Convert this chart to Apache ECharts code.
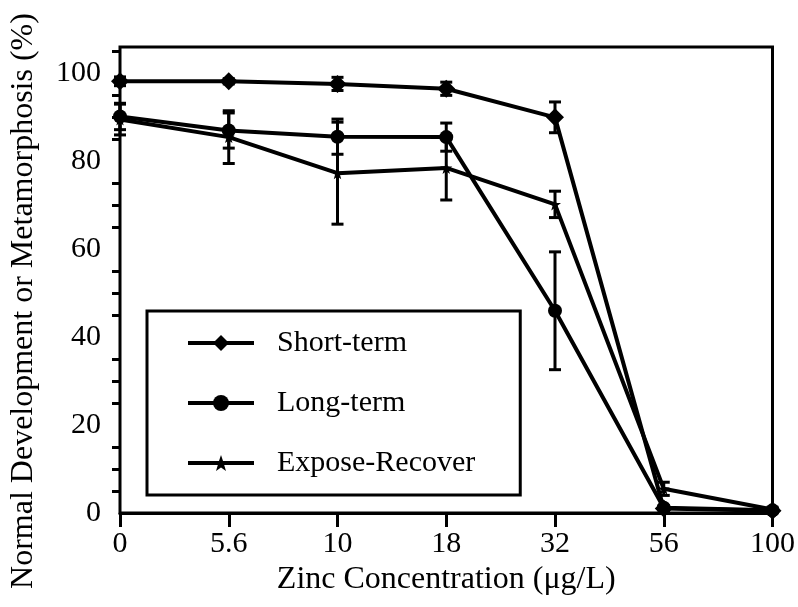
<!DOCTYPE html>
<html>
<head>
<meta charset="utf-8">
<script src="https://cdn.jsdelivr.net/npm/echarts@6/dist/echarts.min.js"></script>
<style>
  html, body { margin: 0; padding: 0; background: #fff; }
  #chart { width: 798px; height: 607px; }
</style>
</head>
<body>
<div id="chart"></div>
<script>
// zinc concentrations (category axis)
const concentrations = ['0', '5.6', '10', '18', '32', '56', '100'];

// mean % normal development / metamorphosis
const shortTerm = [98.2, 98.2, 97.6, 96.5, 90, 1.0, 0.5];
const longTerm = [90.2, 87, 85.6, 85.5, 46, 1.2, 0.6];
const exposeRecover = [89.5, 85.5, 77.3, 78.5, 70.2, 5.5, 0.8];

// +/- error
const shortErr = [1, 0.6, 1.5, 1.5, 3.5, 0.5, 0.5];
const longErr = [3, 4, 4, 3.2, 13.4, 0.5, 0.3];
const exposeErr = [3.5, 6, 11.6, 7.3, 3, 1.5, 0.5];

const yTicks = [0, 20, 40, 60, 80, 100];

const font = 'Liberation Serif';
const star = 'path://M0,-10 L2.4,-3.1 9.5,-3.1 3.8,1.2 5.9,8.1 0,4 -5.9,8.1 -3.8,1.2 -9.5,-3.1 -2.4,-3.1 Z';

const bars = (vals, errs) => vals.map((v, i) => [i, v - errs[i], v + errs[i]]);

const renderBar = (params, api) => {
  const x = api.value(0);
  const lo = api.coord([x, api.value(1)]);
  const hi = api.coord([x, api.value(2)]);
  const w = 6;
  const style = { stroke: '#000', lineWidth: 3 };
  return {
    type: 'group',
    children: [
      { type: 'line', shape: { x1: lo[0], y1: lo[1], x2: hi[0], y2: hi[1] }, style },
      { type: 'line', shape: { x1: lo[0] - w, y1: lo[1], x2: lo[0] + w, y2: lo[1] }, style },
      { type: 'line', shape: { x1: hi[0] - w, y1: hi[1], x2: hi[0] + w, y2: hi[1] }, style },
    ],
  };
};

const lineSeries = (name, data, symbol, size) => ({
  name: name,
  type: 'line',
  data: data,
  symbol: symbol,
  symbolSize: size,
  showAllSymbol: true,
  lineStyle: { color: '#000', width: 4 },
  itemStyle: { color: '#000' },
  z: 3,
});

const charts = echarts.init(document.getElementById('chart'));
charts.setOption({
  animation: false,
  backgroundColor: '#fff',
  grid: {
    left: 119,
    right: 25,
    top: 47,
    bottom: 94,
    show: true,
    borderColor: '#000',
    borderWidth: 3,
  },
  legend: {
    data: ['Short-term', 'Long-term', 'Expose-Recover'],
    orient: 'vertical',
    left: 147,
    top: 311,
    padding: [17, 45, 17, 39],
    itemGap: 30,
    itemWidth: 66,
    itemHeight: 20,
    borderColor: '#000',
    borderWidth: 3,
    lineStyle: { width: 4, color: '#000' },
    itemStyle: { color: '#000' },
    textStyle: {
      fontFamily: font,
      fontSize: 30,
      lineHeight: 30,
      color: '#000',
      padding: [0, 0, 0, 18],
    },
  },
  xAxis: {
    type: 'category',
    data: concentrations,
    boundaryGap: false,
    name: 'Zinc Concentration (μg/L)',
    nameLocation: 'middle',
    nameGap: 50,
    nameTextStyle: { fontFamily: font, fontSize: 32, color: '#000' },
    axisLine: { lineStyle: { color: '#000', width: 3 } },
    axisTick: { length: 14, alignWithLabel: true, lineStyle: { width: 3 } },
    axisLabel: { fontFamily: font, fontSize: 30, color: '#000', margin: 16 },
    splitLine: { show: false },
  },
  yAxis: {
    type: 'value',
    min: 0,
    max: 106,
    interval: 20,
    name: 'Normal Development or Metamorphosis (%)',
    nameLocation: 'middle',
    nameGap: 80,
    nameTextStyle: { fontFamily: font, fontSize: 32, color: '#000', padding: [0, 42, 0, 0] },
    axisLine: { lineStyle: { color: '#000', width: 3 } },
    axisTick: { length: 15, lineStyle: { width: 3 } },
    minorTick: { show: true, splitNumber: 4, length: 8, lineStyle: { color: '#000', width: 3 } },
    axisLabel: {
      fontFamily: font,
      fontSize: 30,
      color: '#000',
      margin: 19,
      showMaxLabel: false,
      formatter: (v) => (yTicks.indexOf(v) >= 0 ? String(v) : ''),
    },
    splitLine: { show: false },
  },
  series: [
    lineSeries('Short-term', shortTerm, 'diamond', [18, 18]),
    lineSeries('Long-term', longTerm, 'circle', 14),
    lineSeries('Expose-Recover', exposeRecover, star, 12),
    { name: 'err-short', type: 'custom', renderItem: renderBar, data: bars(shortTerm, shortErr), z: 2 },
    { name: 'err-long', type: 'custom', renderItem: renderBar, data: bars(longTerm, longErr), z: 2 },
    { name: 'err-expose', type: 'custom', renderItem: renderBar, data: bars(exposeRecover, exposeErr), z: 2 },
  ],
});
</script>
</body>
</html>
